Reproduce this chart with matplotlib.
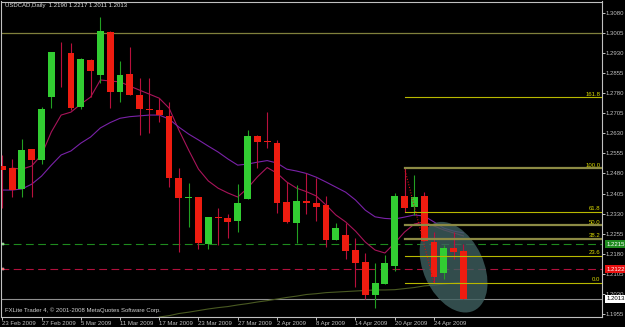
import matplotlib
matplotlib.use('Agg')
import matplotlib.pyplot as plt
from matplotlib.patches import Rectangle, Ellipse
from matplotlib.transforms import ScaledTranslation

title = 'USDCAD,Daily  1.2190 1.2217 1.2011 1.2013'
footer = 'FXLite Trader 4, \u00a9 2001-2008 MetaQuotes Software Corp.'

date_labels = ['23 Feb 2009', '27 Feb 2009', '5 Mar 2009', '11 Mar 2009', '17 Mar 2009',
               '23 Mar 2009', '27 Mar 2009', '2 Apr 2009', '8 Apr 2009', '14 Apr 2009',
               '20 Apr 2009', '24 Apr 2009']

opens = [1.2508, 1.2499, 1.2422, 1.2571, 1.2530, 1.2766, 1.2930, 1.2931, 1.2729, 1.2903,
         1.2847, 1.3008, 1.2785, 1.2851, 1.2773, 1.2717, 1.2717, 1.2695, 1.2464, 1.2389,
         1.2391, 1.2216, 1.2317, 1.2312, 1.2302, 1.2384, 1.2620, 1.2600, 1.2595, 1.2373,
         1.2294, 1.2378, 1.2368, 1.2362, 1.2231, 1.2250, 1.2194, 1.2148, 1.2026, 1.2068,
         1.2134, 1.2394, 1.2353, 1.2396, 1.2225, 1.2110, 1.2203, 1.2190]
highs = [1.2549, 1.2534, 1.2608, 1.2573, 1.2727, 1.2933, 1.2972, 1.2966, 1.2910, 1.2906,
         1.3065, 1.3010, 1.2900, 1.2953, 1.2836, 1.2835, 1.2760, 1.2748, 1.2499, 1.2443,
         1.2393, 1.2318, 1.2350, 1.2328, 1.2439, 1.2642, 1.2622, 1.2710, 1.2605, 1.2449,
         1.2437, 1.2481, 1.2462, 1.2396, 1.2294, 1.2294, 1.2238, 1.2182, 1.2144, 1.2175,
         1.2407, 1.2500, 1.2474, 1.2412, 1.2262, 1.2213, 1.2262, 1.2217]
lows = [1.2351, 1.2393, 1.2393, 1.2393, 1.2514, 1.2723, 1.2804, 1.2717, 1.2719, 1.2766,
        1.2816, 1.2723, 1.2748, 1.2772, 1.2623, 1.2630, 1.2671, 1.2430, 1.2185, 1.2281,
        1.2199, 1.2198, 1.2213, 1.2238, 1.2262, 1.2383, 1.2499, 1.2574, 1.2333, 1.2296,
        1.2220, 1.2327, 1.2303, 1.2206, 1.2230, 1.2161, 1.2057, 1.2010, 1.1977, 1.2067,
        1.2117, 1.2336, 1.2325, 1.2226, 1.2072, 1.2085, 1.2160, 1.2011]
closes = [1.2493, 1.2418, 1.2567, 1.2530, 1.2719, 1.2932, 1.2928, 1.2725, 1.2907, 1.2862,
          1.3012, 1.2785, 1.2847, 1.2773, 1.2720, 1.2716, 1.2698, 1.2464, 1.2389, 1.2390,
          1.2220, 1.2316, 1.2315, 1.2300, 1.2368, 1.2621, 1.2596, 1.2597, 1.2368, 1.2297,
          1.2378, 1.2368, 1.2356, 1.2231, 1.2277, 1.2192, 1.2146, 1.2026, 1.2072, 1.2145,
          1.2394, 1.2351, 1.2393, 1.2228, 1.2094, 1.2203, 1.2188, 1.2013]

# moving averages (fast starts at bar 1, long one at bar 16)
fast_ma = [1.2500, 1.2496, 1.2508, 1.2549, 1.2635, 1.2698, 1.2709, 1.2739, 1.2765, 1.2829,
           1.2825, 1.2822, 1.2806, 1.2791, 1.2776, 1.2761, 1.2724, 1.2642, 1.2567, 1.2496,
           1.2452, 1.2425, 1.2407, 1.2392, 1.2425, 1.2467, 1.2502, 1.2481, 1.2448, 1.2425,
           1.2412, 1.2396, 1.2362, 1.2325, 1.2299, 1.2265, 1.2224, 1.2194, 1.2183, 1.2220,
           1.2261, 1.2291, 1.2299, 1.2284, 1.2269, 1.2258, 1.2247]
slow_ma = [1.2418, 1.2418, 1.2422, 1.2440, 1.2470, 1.2511, 1.2549, 1.2564, 1.2593, 1.2616,
           1.2650, 1.2670, 1.2686, 1.2692, 1.2695, 1.2698, 1.2698, 1.2683, 1.2653, 1.2627,
           1.2605, 1.2582, 1.2560, 1.2534, 1.2511, 1.2515, 1.2522, 1.2528, 1.2519, 1.2496,
           1.2489, 1.2480, 1.2466, 1.2448, 1.2429, 1.2410, 1.2381, 1.2343, 1.2318, 1.2312,
           1.2310, 1.2317, 1.2325, 1.2321, 1.2299, 1.2276, 1.2265, 1.2258]
long_ma = [1.1944, 1.1949, 1.1957, 1.1962, 1.1968, 1.1974, 1.1979, 1.1983, 1.1989, 1.1994,
           1.2000, 1.2005, 1.2011, 1.2017, 1.2022, 1.2028, 1.2031, 1.2035, 1.2037, 1.2039,
           1.2041, 1.2043, 1.2045, 1.2045, 1.2046, 1.2050, 1.2054, 1.2060, 1.2063, 1.2067,
           1.2071, 1.2074]

fib_levels = [0.0, 23.6, 38.2, 50.0, 61.8, 100.0, 161.8]
fib_high, fib_low = 1.2500, 1.2072
fib_high_bar, fib_low_bar = 41, 44

resistance = 1.3005
green_level = 1.2215
red_level = 1.2122
bid = 1.2013

plt.rcParams['font.family'] = ['Liberation Sans', 'DejaVu Sans']
FS = 4.3
GREY = '#c0c0c0'

fig = plt.figure(figsize=(6.25, 3.27), dpi=100, facecolor='black')
ax = fig.add_axes([1.5 / 625, 10 / 327, 600 / 625, 315.5 / 327])
ax.set_facecolor('black')
ax.set_xlim(-0.08, 61.08)
ax.set_ylim(1.1944, 1.3122)
xmax = ax.get_xlim()[1]

# candles
for i, (o, h, l, c) in enumerate(zip(opens, highs, lows, closes)):
    up = c > o
    wick = '#22a022' if up else '#b8103c'
    body = '#32cd32' if up else '#ee1c10'
    ax.plot([i, i], [l, h], color=wick, lw=0.8, zorder=4, solid_capstyle='butt')
    lo, hi = min(o, c), max(o, c)
    ax.add_patch(Rectangle((i - 0.35, lo), 0.7, max(hi - lo, 0.0003),
                           facecolor=body, edgecolor='none', zorder=5))

# moving averages
ax.plot(range(1, 1 + len(fast_ma)), fast_ma, color='#a8145a', lw=0.8, zorder=2)
ax.plot(range(len(slow_ma)), slow_ma, color='#7a22a8', lw=0.8, zorder=2)
ax.plot(range(16, 16 + len(long_ma)), long_ma, color='#4a5a22', lw=0.8, zorder=2)

# horizontal lines
ax.axhline(resistance, color='#80803c', lw=0.9, zorder=1)
ax.axhline(green_level, color='#1e8a1e', lw=0.8, ls=(0, (7, 4)), zorder=1)
ax.axhline(red_level, color='#b0103c', lw=0.8, ls=(0, (7, 4)), zorder=1)
ax.axhline(bid, color='#909090', lw=0.8, zorder=1)

# highlight ellipse
ell_tr = fig.dpi_scale_trans + ScaledTranslation(46.0, 1.2130, ax.transData)
ax.add_patch(Ellipse((0, 0), 0.60, 0.96, angle=25, transform=ell_tr,
                     facecolor='#3f6060', edgecolor='none', alpha=0.8, zorder=3))

# fibonacci retracement
ax.plot([fib_high_bar, fib_low_bar], [fib_high, fib_low], color='#cc1010', lw=0.8,
        ls=(0, (1, 1.5)), zorder=6)
for lev in fib_levels:
    price = fib_low + lev / 100 * (fib_high - fib_low)
    olive = lev in (38.2, 50.0, 100.0)
    ax.plot([fib_high_bar, xmax], [price, price], color='#8c8a44' if olive else '#b8b800',
            lw=1.6 if olive else 0.8, zorder=6)
    ax.text(0.998, price + 0.0002, f'{lev:.1f}', transform=ax.get_yaxis_transform(),
            ha='right', va='bottom', fontsize=FS, color='#d8d800', zorder=7)

# axes styling
for s in ax.spines.values():
    s.set_color(GREY)
    s.set_linewidth(0.8)
ax.yaxis.tick_right()
yt = [1.1955 + 0.0075 * k for k in range(16)]
ax.set_yticks(yt)
ax.set_yticklabels([f'{v:.4f}' for v in yt])
ax.set_xticks(range(0, 4 * len(date_labels), 4))
ax.set_xticklabels(date_labels, ha='left')
ax.tick_params(colors=GREY, labelsize=FS, length=2, width=0.7, pad=1.2)

# price boxes on the right
ytr = ax.get_yaxis_transform()
for price, fc, tc in [(green_level, '#1e8a1e', 'white'), (red_level, '#e81010', 'white'),
                      (bid, 'white', 'black')]:
    ax.text(1.009, price, f'{price:.4f}', transform=ytr, ha='left', va='center',
            fontsize=FS, color=tc, clip_on=False, zorder=8,
            bbox=dict(facecolor=fc, edgecolor='none', boxstyle='square,pad=0.25'))
ax.plot([0.003], [green_level], transform=ytr, ls='none', marker='s',
        ms=2, mfc='#40c040', mec='white', mew=0.3, clip_on=False, zorder=8)
ax.plot([0.003], [red_level], transform=ytr, ls='none', marker='s',
        ms=2, mfc='#e82020', mec='white', mew=0.3, clip_on=False, zorder=8)

ax.text(0.006, 0.986, title, transform=ax.transAxes, ha='left', va='center',
        fontsize=FS, color='#e0e0e0')
ax.text(0.006, 0.022, footer, transform=ax.transAxes, ha='left', va='center',
        fontsize=FS, color='#d0d0d0')

fig.savefig('out.png', dpi=100, facecolor='black')
